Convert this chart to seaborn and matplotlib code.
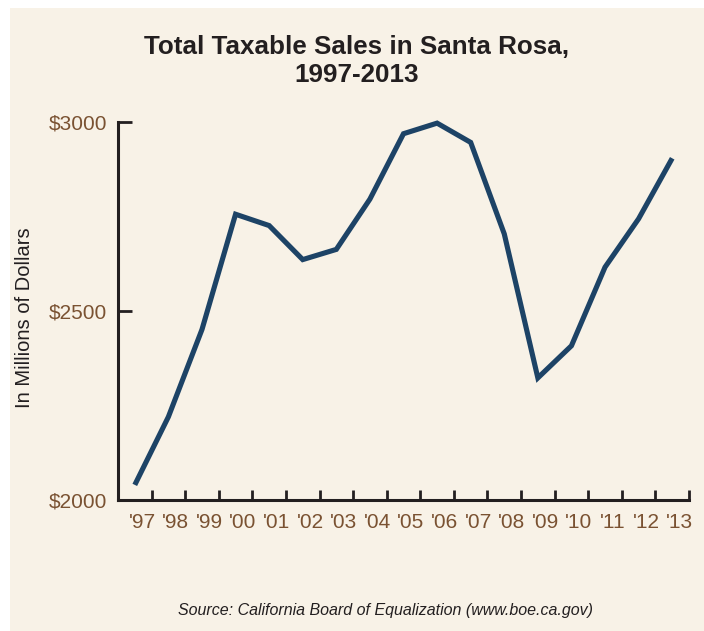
import matplotlib
matplotlib.use("Agg")
import matplotlib.pyplot as plt
import matplotlib.patches as mpatches
import numpy as np
import pandas as pd
import seaborn as sns

# Taxable sales, millions of dollars
years = ["'97", "'98", "'99", "'00", "'01", "'02", "'03", "'04", "'05",
         "'06", "'07", "'08", "'09", "'10", "'11", "'12", "'13"]
sales = [2040, 2220, 2451, 2756, 2726, 2636, 2663, 2796, 2969,
         2997, 2946, 2704, 2323, 2408, 2616, 2744, 2904]
y_ticks = [2000, 2500, 3000]
y_tick_labels = ["$2000", "$2500", "$3000"]

BG = "#f8f2e7"
LINE = "#1d4366"
BROWN = "#7a5232"
INK = "#231f20"

sns.set_theme(style="ticks")
plt.rcParams["font.family"] = ["Liberation Sans", "DejaVu Sans"]

df = pd.DataFrame({"pos": np.arange(len(years)), "sales": sales})

fig = plt.figure(figsize=(7.04, 6.31), dpi=100, facecolor="white")
# beige panel with a thin white margin on the top and left
fig.patches.append(mpatches.Rectangle((10 / 704, 0), 1, 1 - 8 / 631,
                                      transform=fig.transFigure,
                                      facecolor=BG, edgecolor="none", zorder=-10))

ax = fig.add_axes([118 / 704, 1 - 500 / 631, (689 - 118) / 704, (500 - 122) / 631])
ax.set_facecolor("none")
ax.set_zorder(5)

sns.lineplot(data=df, x="pos", y="sales", ax=ax, color=LINE, linewidth=3.7,
             solid_capstyle="butt", solid_joinstyle="miter", clip_on=False)

ax.set_xlim(-0.5, len(years) - 0.5)
ax.set_ylim(2000, 3000)

# tick marks sit between years; labels sit near each year's point
ax.set_xticks(np.arange(len(years)) + 0.5)
ax.set_xticklabels([])
ax.set_xticks(np.arange(len(years)) + 0.22, minor=True)
ax.set_xticklabels(years, minor=True)
ax.tick_params(axis="x", which="major", direction="in", length=7, width=2,
               color=INK)
ax.tick_params(axis="x", which="minor", length=0, pad=9, labelsize=15,
               labelcolor=BROWN)

ax.set_yticks(y_ticks)
ax.set_yticklabels(y_tick_labels)
ax.tick_params(axis="y", direction="in", length=10, width=2, color=INK,
               pad=8, labelsize=15, labelcolor=BROWN)

for side in ("top", "right"):
    ax.spines[side].set_visible(False)
for side in ("left", "bottom"):
    ax.spines[side].set_linewidth(2.2)
    ax.spines[side].set_color(INK)
    ax.spines[side].set_capstyle("projecting")

ax.set_xlabel("")
ax.set_ylabel("")

fig.text(357 / 704, 1 - 61 / 631, "Total Taxable Sales in Santa Rosa,\n1997-2013",
         ha="center", va="center", fontsize=18.7, fontweight="bold", color=INK,
         linespacing=1.2)
fig.text(25 / 704, 1 - 318 / 631, "In Millions of Dollars", rotation=90,
         ha="center", va="center", fontsize=14.5, color=INK)
fig.text(385 / 704, 1 - 611 / 631,
         "Source: California Board of Equalization (www.boe.ca.gov)",
         ha="center", va="center", fontsize=11.5, fontstyle="italic", color=INK)

fig.savefig("out.png", dpi=100, facecolor="white")
